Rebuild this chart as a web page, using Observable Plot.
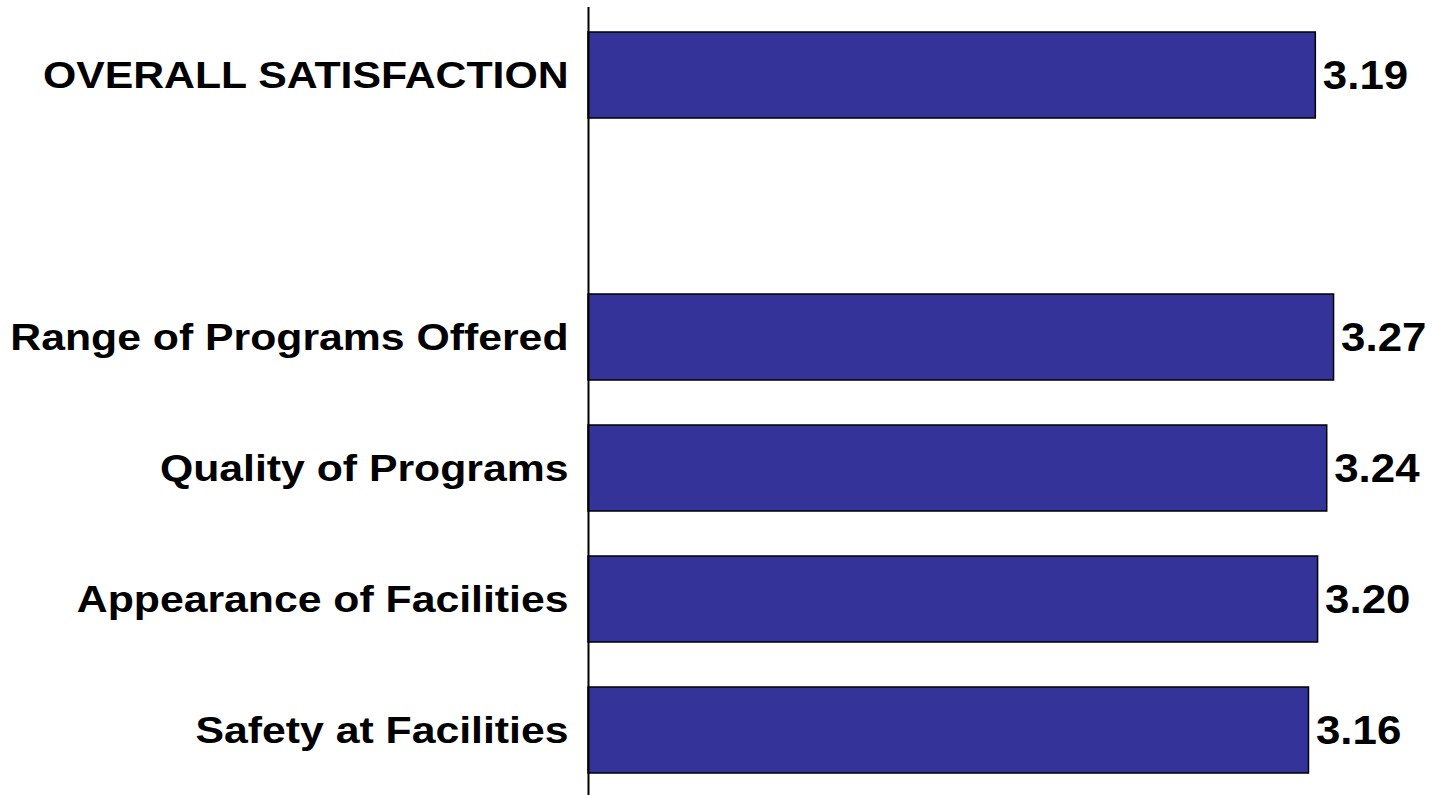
<!DOCTYPE html>
<html>
<head>
<meta charset="utf-8">
<script src="https://cdn.jsdelivr.net/npm/d3@7"></script>
<script src="https://cdn.jsdelivr.net/npm/@observablehq/plot@0.6"></script>
<style>
  html, body { margin: 0; padding: 0; background: #fff; }
  #chart svg { display: block; }
</style>
</head>
<body>
<div id="chart"></div>
<script>
const categories = [
  "OVERALL SATISFACTION",
  "",
  "Range of Programs Offered",
  "Quality of Programs",
  "Appearance of Facilities",
  "Safety at Facilities"
];
const barCategories = [
  "OVERALL SATISFACTION",
  "Range of Programs Offered",
  "Quality of Programs",
  "Appearance of Facilities",
  "Safety at Facilities"
];
const values = [3.19, 3.27, 3.24, 3.20, 3.16];
const valueLabels = ["3.19", "3.27", "3.24", "3.20", "3.16"];

const data = barCategories.map((c, i) => ({cat: c, value: values[i], label: valueLabels[i]}));

const chart = Plot.plot({
  width: 1432,
  height: 795,
  marginLeft: 588,
  marginRight: 0,
  marginTop: 7,
  marginBottom: 0,
  style: {fontFamily: "'Liberation Sans', Arial, sans-serif", background: "#fff"},
  x: {domain: [0, 3.7], range: [588, 588 + 228 * 3.7], axis: null},
  y: {domain: categories, range: [7.6, 798.4], paddingInner: 0.34, paddingOuter: 0.17, align: 0.5},
  marks: [
    Plot.barX(data, {y: "cat", x: "value", fill: "#333399", stroke: "#000", strokeWidth: 1.5}),
    Plot.text(data, {y: "cat", x: "value", text: "label", textAnchor: "start", dx: 7, fontSize: 41, fontWeight: "bold", fill: "#000"}),
    Plot.axisY({tickSize: 0, tickPadding: 20, fontSize: 37.5, fontWeight: "bold", fill: "#000", label: null}),
    Plot.ruleX([0], {stroke: "#000", strokeWidth: 2})
  ]
});

// Horizontally stretch glyphs (about each text's own anchor) to match the reference's wide lettering
function stretch(sel, sx) {
  chart.querySelectorAll(sel).forEach((t) => {
    const tr = t.getAttribute("transform");
    const x = t.getAttribute("x");
    if (tr && (!x || parseFloat(x) === 0 || /em$/.test(x))) {
      t.setAttribute("transform", `${tr} scale(${sx},1)`);
    }
  });
}
stretch('g[aria-label="y-axis tick label"] text', 1.14);
stretch('g[aria-label="text"] text', 1.07);

document.getElementById("chart").appendChild(chart);
</script>
</body>
</html>
